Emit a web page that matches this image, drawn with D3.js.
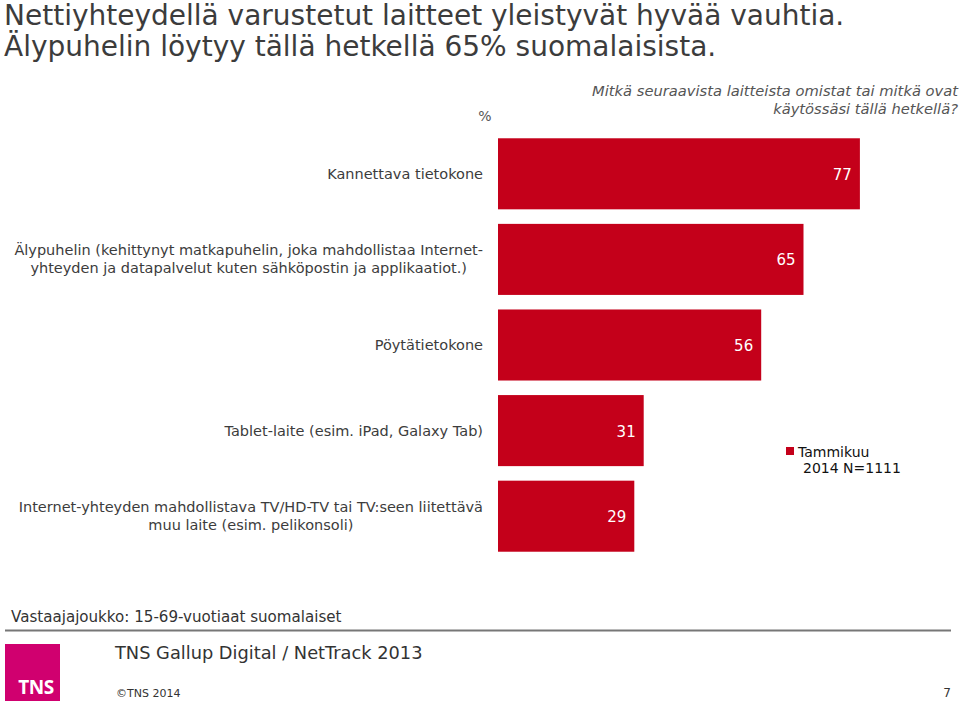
<!DOCTYPE html>
<html>
<head>
<meta charset="utf-8">
<script src="https://cdn.jsdelivr.net/npm/d3@7"></script>
<style>
    body { margin: 0; background: #fff; }
    svg { display: block; font-family: "DejaVu Sans", Verdana, sans-serif; }
</style>
</head>
<body>
<script>
const categories = [
    ['Kannettava tietokone'],
    ['Älypuhelin (kehittynyt matkapuhelin, joka mahdollistaa Internet-', 'yhteyden ja datapalvelut kuten sähköpostin ja applikaatiot.)'],
    ['Pöytätietokone'],
    ['Tablet-laite (esim. iPad, Galaxy Tab)'],
    ['Internet-yhteyden mahdollistava TV/HD-TV tai TV:seen liitettävä', 'muu laite (esim. pelikonsoli)']
];
const values = [77, 65, 56, 31, 29];
const seriesName = ['Tammikuu', '2014 N=1111'];

const width = 960;
const height = 701;
const barColor = '#c4001a';
const textColor = '#3c3c3c';

const chart = d3.select('body')
    .append('svg')
    .attr('width', width)
    .attr('height', height);

// title
chart.append('text')
    .attr('font-size', 28)
    .attr('fill', textColor)
    .selectAll('tspan')
    .data(['Nettiyhteydellä varustetut laitteet yleistyvät hyvää vauhtia.', 'Älypuhelin löytyy tällä hetkellä 65% suomalaisista.'])
    .enter()
    .append('tspan')
    .attr('x', 4)
    .attr('y', (d, i) => 25 + i * 31)
    .text(d => d);

// question
chart.append('text')
    .attr('text-anchor', 'end')
    .attr('font-size', 14.7)
    .attr('font-style', 'italic')
    .attr('fill', '#555')
    .selectAll('tspan')
    .data(['Mitkä seuraavista laitteista omistat tai mitkä ovat', 'käytössäsi tällä hetkellä?'])
    .enter()
    .append('tspan')
    .attr('x', 958)
    .attr('y', (d, i) => 96 + i * 18)
    .text(d => d);

chart.append('text')
    .attr('x', 485)
    .attr('y', 121)
    .attr('text-anchor', 'middle')
    .attr('font-size', 14)
    .attr('fill', '#555')
    .text('%');

const x = d3.scaleLinear()
    .domain([0, 100])
    .range([498, 968]);
const y = d3.scaleBand()
    .domain(d3.range(values.length))
    .range([131, 559])
    .paddingInner(0.17)
    .paddingOuter(0.085);

chart.selectAll('rect.bar')
    .data(values)
    .enter()
    .append('rect')
    .attr('class', 'bar')
    .attr('x', x(0))
    .attr('y', (d, i) => y(i))
    .attr('width', d => x(d) - x(0))
    .attr('height', y.bandwidth())
    .attr('fill', barColor);

chart.selectAll('text.value')
    .data(values)
    .enter()
    .append('text')
    .attr('class', 'value')
    .attr('x', d => x(d) - 8)
    .attr('y', (d, i) => y(i) + y.bandwidth() / 2 + 6)
    .attr('text-anchor', 'end')
    .attr('font-size', 15)
    .attr('fill', '#fff')
    .text(d => d);

// category labels: centred block, right edge at 483
const labelRight = 483;
categories.forEach((lines, i) => {
    const g = chart.append('text')
        .attr('font-size', 14.5)
        .attr('fill', textColor);
    const cy = y(i) + y.bandwidth() / 2;
    const spans = g.selectAll('tspan')
        .data(lines)
        .enter()
        .append('tspan')
        .attr('y', (d, j) => cy + 5 + (j - (lines.length - 1) / 2) * 18)
        .text(d => d);
    const maxW = d3.max(spans.nodes(), n => n.getComputedTextLength());
    spans.attr('x', labelRight - maxW / 2)
        .attr('text-anchor', 'middle');
});

// legend
chart.append('rect')
    .attr('x', 786)
    .attr('y', 447)
    .attr('width', 8)
    .attr('height', 8)
    .attr('fill', barColor);
chart.append('text')
    .attr('font-size', 14)
    .attr('fill', '#111')
    .selectAll('tspan')
    .data(seriesName)
    .enter()
    .append('tspan')
    .attr('x', (d, i) => i ? 803 : 798)
    .attr('y', (d, i) => 457 + i * 16)
    .text(d => d);

// footer
chart.append('text')
    .attr('x', 11)
    .attr('y', 622)
    .attr('font-size', 15.1)
    .attr('fill', '#333')
    .text('Vastaajajoukko: 15-69-vuotiaat suomalaiset');
chart.append('line')
    .attr('x1', 5)
    .attr('x2', 951)
    .attr('y1', 630.5)
    .attr('y2', 630.5)
    .attr('stroke', '#777')
    .attr('stroke-width', 2);
chart.append('rect')
    .attr('x', 5)
    .attr('y', 644)
    .attr('width', 55)
    .attr('height', 57)
    .attr('fill', '#d0006f');
chart.append('text')
    .attr('x', 36)
    .attr('y', 694)
    .attr('text-anchor', 'middle')
    .attr('font-size', 19)
    .attr('font-weight', 'bold')
    .attr('font-family', '"Open Sans", sans-serif')
    .attr('letter-spacing', -0.5)
    .attr('fill', '#fff')
    .text('TNS');
chart.append('text')
    .attr('x', 115)
    .attr('y', 659)
    .attr('font-size', 17.8)
    .attr('fill', '#333')
    .text('TNS Gallup Digital / NetTrack 2013');
chart.append('text')
    .attr('x', 116)
    .attr('y', 697)
    .attr('font-size', 11)
    .attr('fill', '#333')
    .text('©TNS 2014');
chart.append('text')
    .attr('x', 951)
    .attr('y', 697)
    .attr('text-anchor', 'end')
    .attr('font-size', 12)
    .attr('fill', '#333')
    .text('7');
</script>
</body>
</html>
